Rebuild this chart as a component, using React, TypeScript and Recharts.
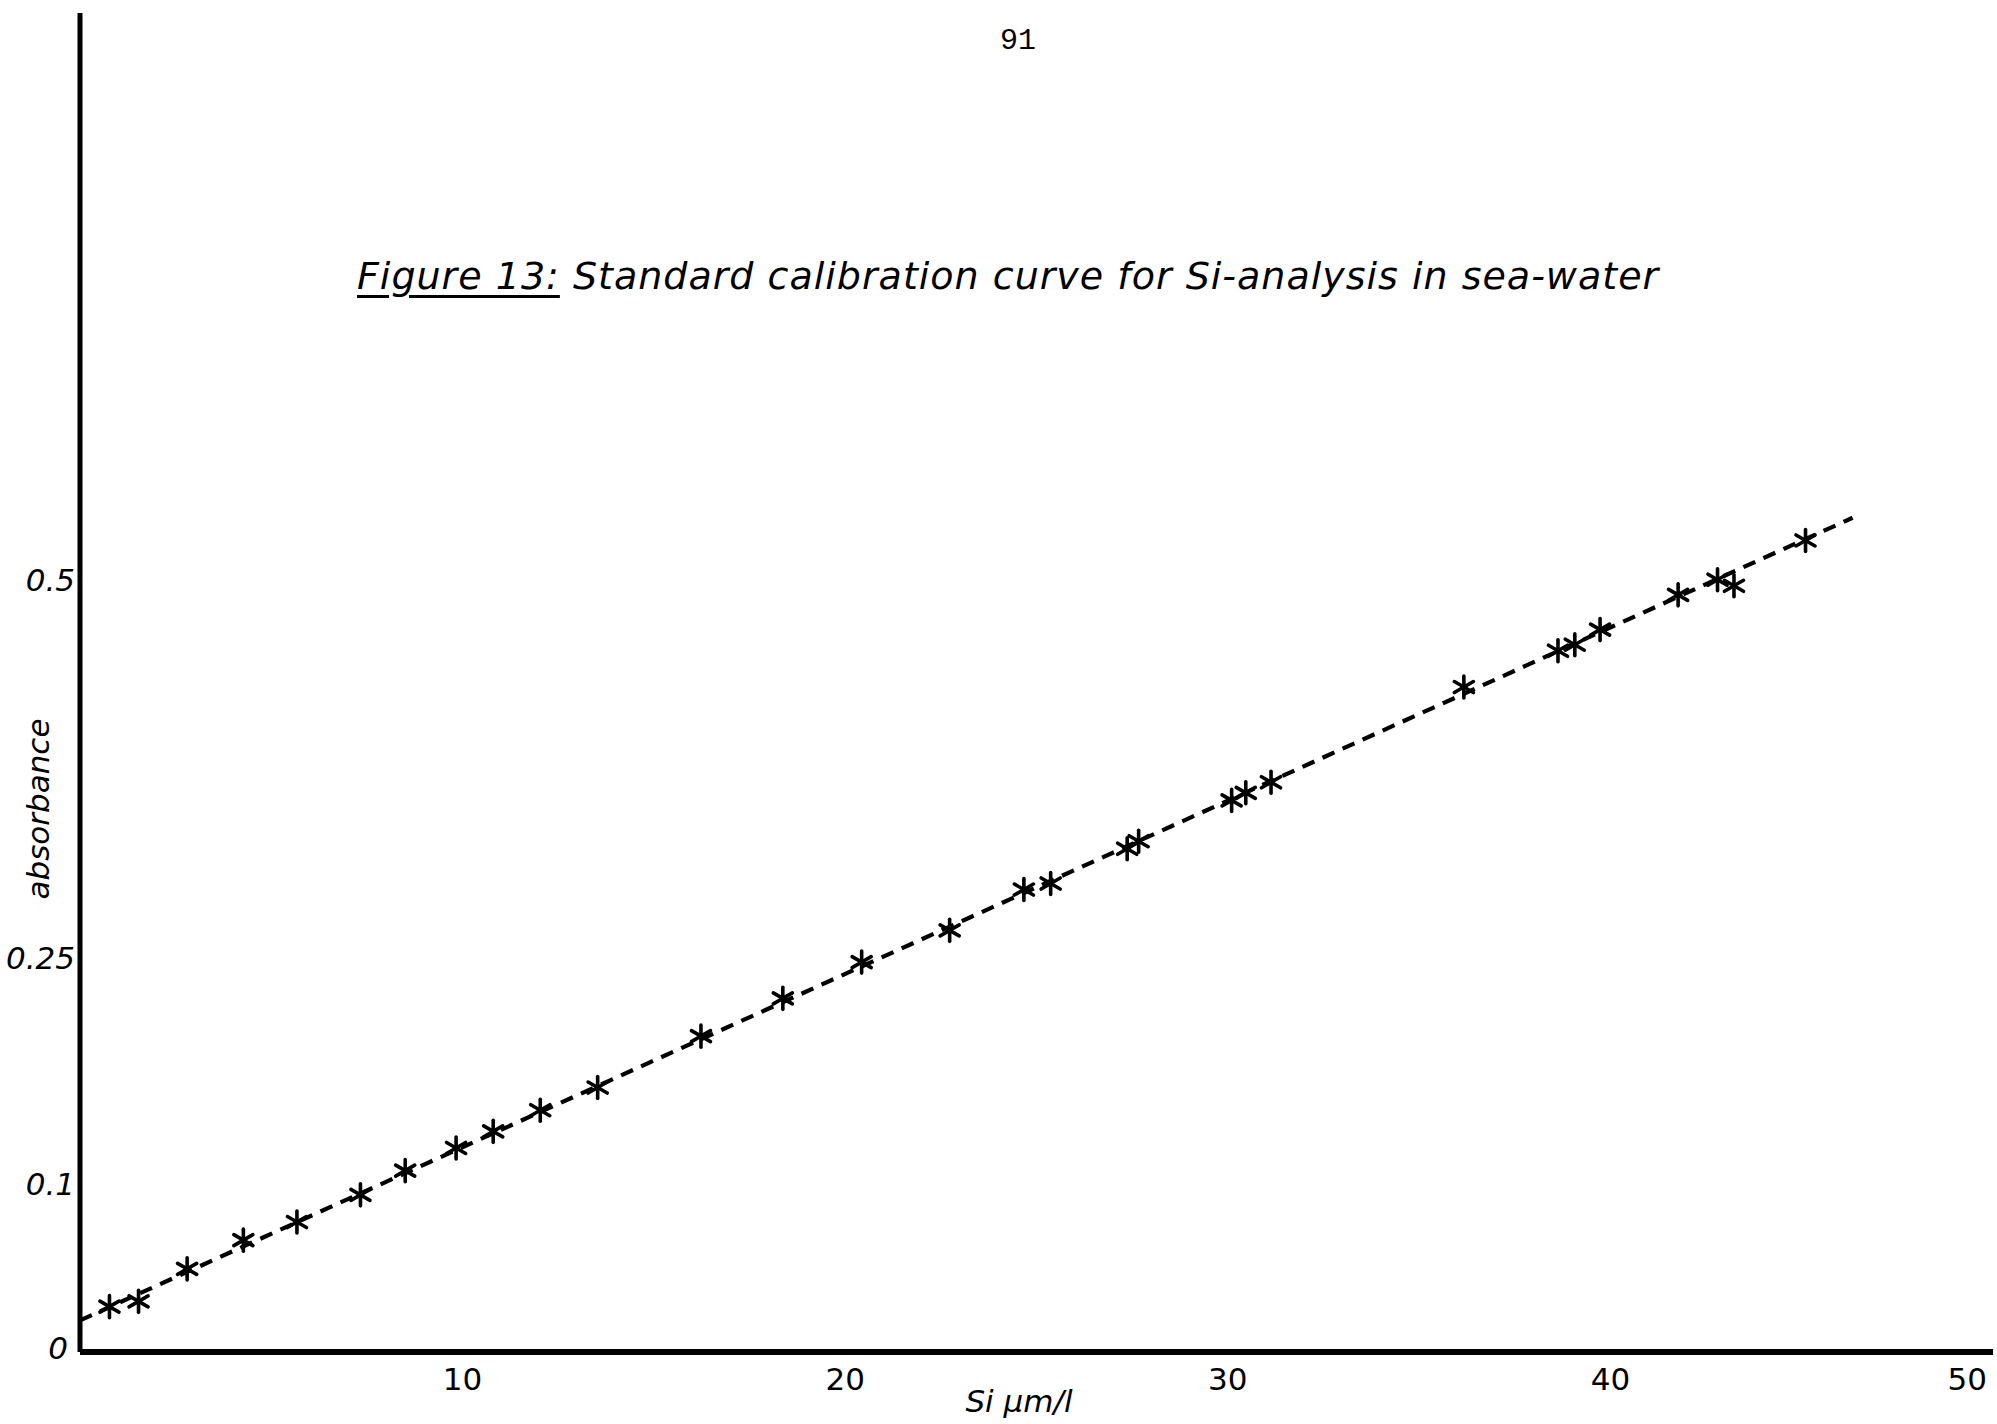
import { Scatter, ScatterChart, XAxis, YAxis } from "recharts";

// Si concentration (µm/l) and absorbance
const siConc = [
  0.77, 1.53, 2.8, 4.27, 5.67, 7.33, 8.5, 9.83, 10.8, 12.03, 13.53, 16.23, 18.37, 20.43, 22.73,
  24.67, 25.37, 27.37, 27.67, 30.1, 30.47, 31.13, 36.17, 38.63, 39.07, 39.73, 41.77, 42.8, 43.23,
  45.1,
];
const absorbance = [
  0.019, 0.0225, 0.044, 0.063, 0.075, 0.093, 0.109, 0.124, 0.135, 0.149, 0.164, 0.198, 0.223,
  0.247, 0.268, 0.295, 0.299, 0.322, 0.327, 0.354, 0.359, 0.366, 0.429, 0.453, 0.457, 0.467, 0.49,
  0.5, 0.496, 0.526,
];

// hand-drawn calibration line (start / end)
const fitX = [0, 46.33];
const fitY = [0.0099, 0.541];

const xTicks = [10, 20, 30, 40, 50];
const yTicks = [0, 0.1, 0.25, 0.5];

const points = siConc.map((x, i) => ({ x, y: absorbance[i] }));
const fitLine = fitX.map((x, i) => ({ x, y: fitY[i] }));

const handFont = "'DejaVu Sans', sans-serif";

const Asterisk = (props: any) => {
  const { cx, cy } = props;
  const r = 11;
  const arms = [90, 30, -30].map((deg) => {
    const a = (deg * Math.PI) / 180;
    return {
      x1: cx - r * Math.cos(a),
      y1: cy - r * Math.sin(a),
      x2: cx + r * Math.cos(a),
      y2: cy + r * Math.sin(a),
    };
  });
  return (
    <g>
      {arms.map((l, i) => (
        <line key={i} {...l} stroke="#000" strokeWidth={3.6} strokeLinecap="round" />
      ))}
    </g>
  );
};

const XTick = (props: any) => {
  const { x, payload } = props;
  const last = payload.value === 50;
  return (
    <text
      x={last ? x - 2 : x}
      y={1390}
      textAnchor={last ? "end" : "middle"}
      fontFamily={handFont}
      fontSize={31}
      fill="#000"
    >
      {payload.value}
    </text>
  );
};

const YTick = (props: any) => {
  const { y, payload } = props;
  const isZero = payload.value === 0;
  return (
    <text
      x={isZero ? 68 : 75}
      y={isZero ? y + 24 : y + 11}
      textAnchor="end"
      fontFamily={handFont}
      fontStyle="italic"
      fontSize={31}
      fill="#000"
    >
      {payload.value}
    </text>
  );
};

const App = () => {
  return (
    <div
      style={{
        position: "absolute",
        left: 0,
        top: 0,
        width: 1997,
        height: 1424,
        background: "#fff",
        overflow: "hidden",
      }}
    >
      <ScatterChart width={1997} height={1424} margin={{ top: 13, right: 4, bottom: 0, left: 0 }}>
        <XAxis
          type="number"
          dataKey="x"
          domain={[0, 50]}
          ticks={xTicks}
          height={72}
          tickLine={false}
          axisLine={{ stroke: "#000", strokeWidth: 6 }}
          tick={<XTick />}
        />
        <YAxis
          type="number"
          dataKey="y"
          domain={[-0.011, 0.875]}
          ticks={yTicks}
          width={80}
          tickLine={false}
          axisLine={{ stroke: "#000", strokeWidth: 5 }}
          tick={<YTick />}
        />
        <Scatter
          data={fitLine}
          line={{ stroke: "#000", strokeWidth: 4.2, strokeDasharray: "13 9" }}
          lineType="joint"
          shape={() => <g />}
          isAnimationActive={false}
        />
        <Scatter data={points} shape={<Asterisk />} isAnimationActive={false} />
      </ScatterChart>

      {/* page number */}
      <div
        style={{
          position: "absolute",
          left: 1000,
          top: 24,
          fontFamily: "'Liberation Mono', monospace",
          fontSize: 30,
          color: "#000",
        }}
      >
        91
      </div>

      {/* title */}
      <div
        style={{
          position: "absolute",
          left: 357,
          top: 254,
          fontFamily: handFont,
          fontStyle: "italic",
          fontSize: 38,
          letterSpacing: 1,
          color: "#000",
          whiteSpace: "nowrap",
        }}
      >
        <span style={{ textDecoration: "underline", textUnderlineOffset: 6 }}>Figure 13:</span>{" "}
        Standard calibration curve for Si-analysis in sea-water
      </div>

      {/* y axis label */}
      <div
        style={{
          position: "absolute",
          left: 38,
          top: 809,
          transform: "translate(-50%, -50%) rotate(-90deg)",
          fontFamily: handFont,
          fontStyle: "italic",
          fontSize: 31,
          color: "#000",
          whiteSpace: "nowrap",
        }}
      >
        absorbance
      </div>

      {/* x axis label */}
      <div
        style={{
          position: "absolute",
          left: 1019,
          top: 1401,
          transform: "translate(-50%, -50%)",
          fontFamily: handFont,
          fontStyle: "italic",
          fontSize: 31,
          color: "#000",
          whiteSpace: "nowrap",
        }}
      >
        Si µm/l
      </div>
    </div>
  );
};

export default App;
